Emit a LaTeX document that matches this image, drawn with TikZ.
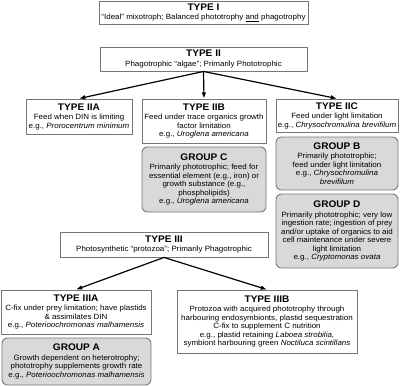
\documentclass[tikz,border=0pt]{standalone}
\usepackage{fontspec}
\setmainfont{Liberation Sans}[FakeStretch=1.05]
\usetikzlibrary{arrows.meta}
\definecolor{boxline}{HTML}{767676}
\definecolor{groupfill}{HTML}{D9D9D9}
\tikzset{
  typebox/.style={draw=boxline, line width=0.9pt, fill=white, align=center, inner sep=1pt, font=\fontsize{7.6}{8.5}\selectfont},
  groupbox/.style={typebox, fill=groupfill, rounded corners=2mm},
  arrow/.style={-{Latex[length=2.2mm]}, line width=1.2pt, draw=black}
}
\newcommand{\boxtitle}[1]{{\fontsize{9.6}{10.5}\selectfont\bfseries #1}\\[1pt]}

\begin{document}
\begin{tikzpicture}[x=1pt, y=-1pt]
  \useasboundingbox (0,0) rectangle (400,386);

  % top level types
  \node[typebox, minimum width=209pt, minimum height=23pt] (typeI) at (203.5,12.5) {\boxtitle{TYPE I}“Ideal” mixotroph; Balanced phototrophy \underline{and} phagotrophy};
  \node[typebox, minimum width=207pt, minimum height=24pt] (typeII) at (203.5,59) {\boxtitle{TYPE II}Phagotrophic “algae”; Primarily Phototrophic};

  % type II subtypes
  \node[typebox, minimum width=106pt, minimum height=35pt] (typeIIA) at (79,116.5) {\boxtitle{TYPE IIA}Feed when DIN is limiting\\e.g., \textit{Prorocentrum minimum}};
  \node[typebox, minimum width=124pt, minimum height=44pt] (typeIIB) at (204,121) {\boxtitle{TYPE IIB}Feed under trace organics growth\\factor limitation\\e.g., \textit{Uroglena americana}};
  \node[typebox, minimum width=122pt, minimum height=33pt] (typeIIC) at (337,115.5) {\boxtitle{TYPE IIC}Feed under light limitation\\e.g., \textit{Chrysochromulina brevifilum}};

  % groups below type II
  \node[groupbox, minimum width=124pt, minimum height=65pt] (groupC) at (204,179.5) {\boxtitle{GROUP C}Primarily phototrophic; feed for\\essential element (e.g., iron) or\\growth substance (e.g.,\\phospholipids)\\e.g., \textit{Uroglena americana}};
  \node[groupbox, minimum width=122pt, minimum height=53pt] (groupB) at (337,163.5) {\boxtitle{GROUP B}Primarily phototrophic;\\feed under light limitation\\e.g., \textit{Chrysochromulina}\\\textit{brevifilum}};
  \node[groupbox, minimum width=122pt, minimum height=74pt] (groupD) at (337,231) {\boxtitle{GROUP D}Primarily phototrophic; very low\\ingestion rate; ingestion of prey\\and/or uptake of organics to aid\\cell maintenance under severe\\light limitation\\e.g., \textit{Cryptomonas ovata}};

  % type III and subtypes
  \node[typebox, minimum width=208pt, minimum height=25pt] (typeIII) at (164,244.5) {\boxtitle{TYPE III}Photosynthetic “protozoa”; Primarily Phagotrophic};
  \node[typebox, minimum width=150pt, minimum height=44pt] (typeIIIA) at (76,312) {\boxtitle{TYPE IIIA}C-fix under prey limitation; have plastids\\\& assimilates DIN\\e.g., \textit{Poterioochromonas malhamensis}};
  \node[typebox, minimum width=180pt, minimum height=63pt] (typeIIIB) at (267,321.5) {\boxtitle{TYPE IIIB}Protozoa with acquired phototrophy through\\harbouring endosymbionts, plastid sequestration\\C-fix to supplement C nutrition\\e.g., plastid retaining \textit{Laboea strobilia},\\symbiont harbouring green \textit{Noctiluca scintillans}};
  \node[groupbox, minimum width=149pt, minimum height=47pt] (groupA) at (76.5,361.5) {\boxtitle{GROUP A}Growth dependent on heterotrophy;\\phototrophy supplements growth rate\\e.g., \textit{Poterioochromonas malhamensis}};

  % arrows
  \draw[arrow] (typeII.south) -- (typeIIA.north);
  \draw[arrow] (typeII.south) -- (typeIIB.north);
  \draw[arrow] (typeII.south) -- (typeIIC.north);
  \draw[arrow] (typeIII.south) -- (typeIIIA.north);
  \draw[arrow] (typeIII.south) -- (typeIIIB.north);
\end{tikzpicture}
\end{document}
